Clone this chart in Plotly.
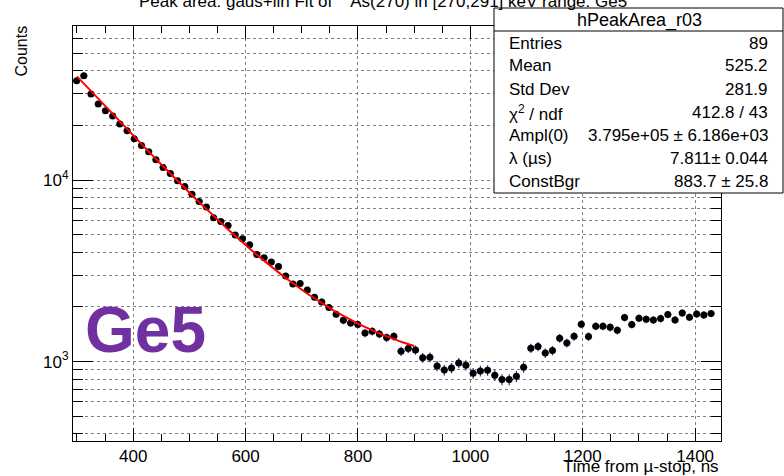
import numpy as np
import plotly.graph_objects as go

# ---- data ----
bin_start = 292.9
bin_width = 12.83
counts = [35300, 37620, 29810, 26260, 24110, 22540, 20360, 18700, 16900, 15540,
          14330, 12940, 11750, 10890, 9910, 9230, 8370, 7630, 7100, 6200,
          5920, 5630, 4990, 4745, 4405, 3890, 3735, 3540, 3340, 2965,
          2680, 2690, 2482, 2263, 2132, 1986, 1823, 1689, 1632, 1600,
          1438, 1469, 1420, 1356, 1378, 1140, 1181, 1159, 1049, 1056,
          945, 899, 922, 982, 954, 862, 887, 895, 840, 796,
          796, 830, 930, 1184, 1210, 1115, 1150, 1344, 1267, 1378,
          1606, 1373, 1566, 1566, 1546, 1488, 1749, 1600, 1733, 1711,
          1696, 1727, 1816, 1696, 1853, 1755, 1830, 1807, 1840]
errors = [376, 388, 345, 324, 311, 300, 285, 273, 260, 249,
          239, 228, 217, 209, 199, 192, 183, 175, 169, 157,
          154, 150, 141, 138, 133, 125, 122, 119, 116, 109,
          104, 104, 100, 95, 92, 89, 85, 82, 81, 80,
          76, 77, 75, 74, 74, 68, 69, 68, 65, 65,
          61, 60, 61, 63, 62, 59, 60, 60, 58, 56,
          56, 58, 61, 69, 70, 67, 68, 73, 71, 74,
          80, 74, 79, 79, 79, 77, 84, 80, 83, 83,
          82, 83, 85, 82, 86, 84, 86, 85, 86]

# fit parameters from the stats box: Ampl(0)*exp(-lambda*t) + ConstBgr
fit_ampl = 3.795e5
fit_lambda = 7.811      # 1/us
fit_const = 883.7
fit_range = [300, 900]  # ns

stats_labels = ["Entries", "Mean", "Std Dev", "\u03c7<sup>2</sup> / ndf", "Ampl(0)", "\u03bb (\u00b5s)", "ConstBgr"]
stats_values = ["89", "525.2", "281.9", "412.8 / 43", "3.795e+05 \u00b1 6.186e+03", "7.811\u00b1 0.044", "883.7 \u00b1 25.8"]

x_major_ticks = [400, 600, 800, 1000, 1200, 1400]
y_major_ticks = [1000, 10000]
y_major_text = ["10<sup>3</sup>", "10<sup>4</sup>"]
y_minor_ticks = [400, 500, 600, 700, 800, 900, 2000, 3000, 4000, 5000, 6000, 7000, 8000, 9000,
                 20000, 30000, 40000, 50000, 60000, 70000]

# ---- derived ----
x_centers = [bin_start + (i + 0.5) * bin_width for i in range(len(counts))]
t_fit = np.linspace(fit_range[0], fit_range[1], 300)
y_fit = fit_ampl * np.exp(-fit_lambda * t_fit / 1000.0) + fit_const

FONT = "Liberation Sans, Arial, Helvetica, sans-serif"

# layout geometry in pixels
W, H = 784, 476
L, R, T, B = 73, 63, 26, 35
pw, ph = W - L - R, H - T - B


def px(xp):
    return (xp - L) / pw


def py(yp):
    return (H - B - yp) / ph


fig = go.Figure()
fig.add_trace(go.Scatter(
    x=x_centers, y=counts, mode="markers",
    marker=dict(color="black", size=7, symbol="circle"),
    error_x=dict(type="constant", value=bin_width / 2, color="#2a2aa8", thickness=1, width=0),
    error_y=dict(type="data", array=errors, color="#2a2aa8", thickness=1.2, width=0),
    showlegend=False, hoverinfo="x+y"))
fig.add_trace(go.Scatter(
    x=t_fit, y=y_fit, mode="lines",
    line=dict(color="#ff0000", width=2), showlegend=False))

shapes = [
    dict(type="rect", xref="paper", yref="paper", x0=px(494), x1=px(783), y0=py(193), y1=py(8),
         fillcolor="white", line=dict(color="black", width=1), layer="above"),
    dict(type="line", xref="paper", yref="paper", x0=px(494), x1=px(783), y0=py(31), y1=py(31),
         line=dict(color="black", width=1), layer="above"),
]

annotations = [
    dict(text="Peak area: gaus+lin Fit of <sup>75</sup>As(270) in [270,291] keV range: Ge5",
         xref="paper", yref="paper", x=px(137), y=py(13), xanchor="left", yanchor="bottom",
         showarrow=False, font=dict(family=FONT, size=17, color="black")),
    dict(text="hPeakArea_r03", xref="paper", yref="paper", x=px(639), y=py(20),
         xanchor="center", yanchor="middle", showarrow=False,
         font=dict(family=FONT, size=18, color="black")),
    dict(text="Ge5", xref="paper", yref="paper", x=px(145), y=py(330),
         xanchor="center", yanchor="middle", showarrow=False,
         font=dict(family=FONT, size=64, color="#7030a0", weight="bold")),
    dict(text="Time from \u00b5-stop, ns", xref="paper", yref="paper", x=px(721), y=py(466),
         xanchor="right", yanchor="middle", showarrow=False,
         font=dict(family=FONT, size=17, color="black")),
    dict(text="Counts", xref="paper", yref="paper", x=px(21), y=py(24),
         xanchor="center", yanchor="top", textangle=-90, showarrow=False,
         font=dict(family=FONT, size=16, color="black")),
]
row_y = [43.3, 65.7, 89.3, 112.7, 135, 158.3, 181.7]
for lab, val, yy in zip(stats_labels, stats_values, row_y):
    annotations.append(dict(text=lab, xref="paper", yref="paper", x=px(507), y=py(yy),
                            xanchor="left", yanchor="middle", showarrow=False,
                            font=dict(family=FONT, size=17, color="black")))
    annotations.append(dict(text=val, xref="paper", yref="paper", x=px(770), y=py(yy),
                            xanchor="right", yanchor="middle", showarrow=False,
                            font=dict(family=FONT, size=17, color="black")))

fig.update_layout(
    width=W, height=H,
    margin=dict(l=L, r=R, t=T, b=B, autoexpand=False),
    paper_bgcolor="white", plot_bgcolor="white",
    font=dict(family=FONT, size=17, color="black"),
    shapes=shapes, annotations=annotations,
    xaxis=dict(
        range=[bin_start, 1446], tickmode="array", tickvals=x_major_ticks,
        ticks="inside", ticklen=13, tickcolor="black", tickwidth=1,
        showline=True, linecolor="black", linewidth=1, mirror="ticks",
        showgrid=True, gridcolor="#808080", griddash="dot", gridwidth=1,
        zeroline=False, tickfont=dict(family=FONT, size=17),
        minor=dict(dtick=50, tick0=0, ticks="inside", ticklen=7, tickcolor="black", showgrid=False),
    ),
    yaxis=dict(
        type="log", range=[np.log10(365), np.log10(70700)],
        tickmode="array", tickvals=y_major_ticks, ticktext=y_major_text,
        ticks="inside", ticklen=20, tickcolor="black", tickwidth=1,
        showline=True, linecolor="black", linewidth=1, mirror="ticks",
        showgrid=True, gridcolor="#808080", griddash="dot", gridwidth=1,
        zeroline=False, tickfont=dict(family=FONT, size=17),
        minor=dict(tickmode="array", tickvals=y_minor_ticks, ticks="inside", ticklen=10,
                   tickcolor="black", showgrid=True, gridcolor="#808080", griddash="dot", gridwidth=1),
    ),
)

fig.write_html("out.html", config={"displayModeBar": False},
               post_script="document.body.style.margin='0';")
